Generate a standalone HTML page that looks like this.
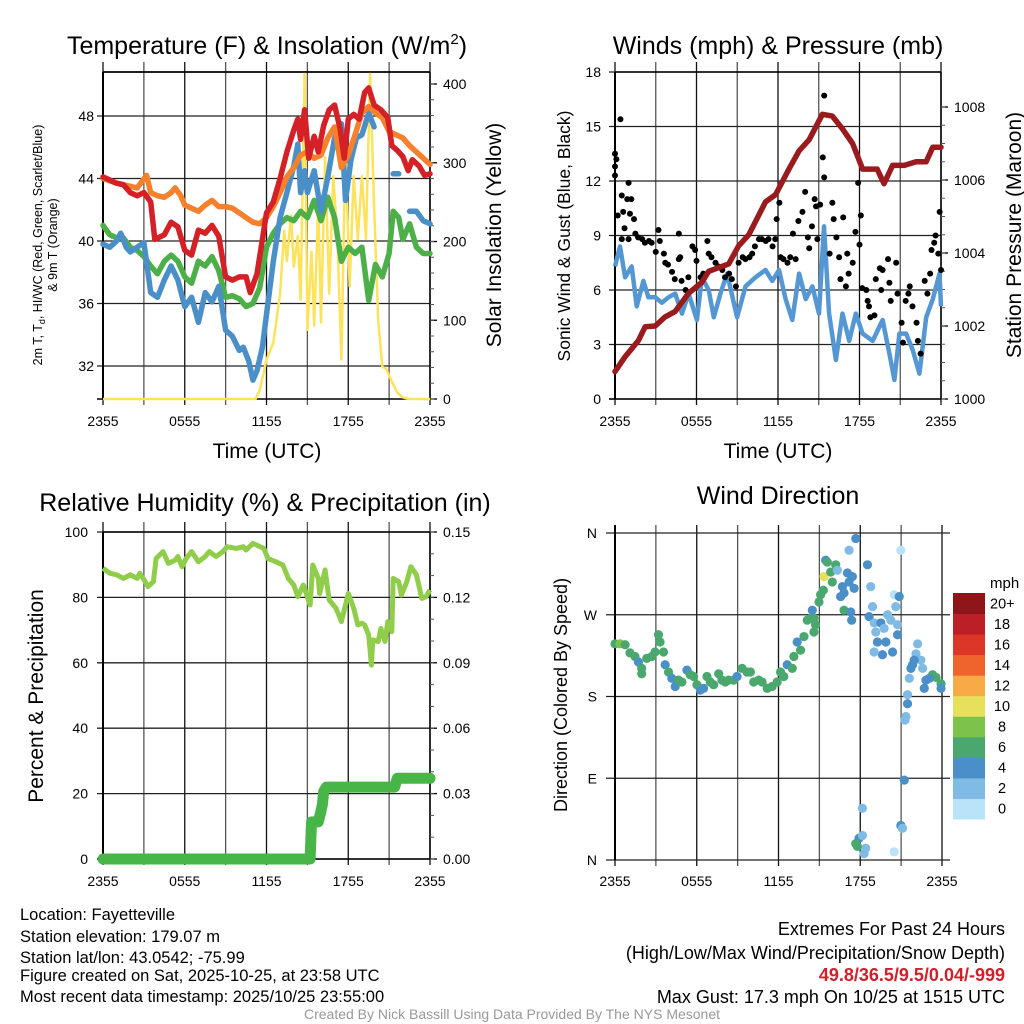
<!DOCTYPE html>
<html><head><meta charset="utf-8"><style>
body{margin:0;background:#fff;}
svg{display:block;font-family:"Liberation Sans",Arial,sans-serif;}
</style></head><body>
<svg id="c" width="1024" height="1024" viewBox="0 0 1024 1024" xmlns="http://www.w3.org/2000/svg">
<rect width="1024" height="1024" fill="#fff"/>
<g id="g"></g>
<text x="267" y="54" font-size="25" text-anchor="middle">Temperature (F) &amp; Insolation (W/m<tspan dy="-10" font-size="15">2</tspan><tspan dy="10">)</tspan></text>
<text x="778" y="54" font-size="25" text-anchor="middle">Winds (mph) &amp; Pressure (mb)</text>
<text x="265" y="511" font-size="25" text-anchor="middle">Relative Humidity (%) &amp; Precipitation (in)</text>
<text x="778" y="504" font-size="25" text-anchor="middle">Wind Direction</text>
<text x="267" y="458" font-size="21" text-anchor="middle">Time (UTC)</text>
<text x="778" y="458" font-size="21" text-anchor="middle">Time (UTC)</text>
<text transform="translate(42,245) rotate(-90)" font-size="12.5" text-anchor="middle">2m T, T<tspan font-size="9" dy="3">d</tspan><tspan dy="-3">, HI/WC (Red, Green, Scarlet/Blue)</tspan></text>
<text transform="translate(57,245) rotate(-90)" font-size="12.5" text-anchor="middle">&amp; 9m T (Orange)</text>
<text transform="translate(501,235) rotate(-90)" font-size="21" text-anchor="middle">Solar Insolation (Yellow)</text>
<text transform="translate(570,236) rotate(-90)" font-size="17.5" text-anchor="middle">Sonic Wind &amp; Gust (Blue, Black)</text>
<text transform="translate(1021,235) rotate(-90)" font-size="21" text-anchor="middle">Station Pressure (Maroon)</text>
<text transform="translate(43,696) rotate(-90)" font-size="21" text-anchor="middle">Percent &amp; Precipitation</text>
<text transform="translate(567,695) rotate(-90)" font-size="18" text-anchor="middle">Direction (Colored By Speed)</text>
<text x="990" y="588" font-size="15">mph</text>
<g font-size="16.5">
<text x="20" y="920">Location: Fayetteville</text>
<text x="20" y="942">Station elevation: 179.07 m</text>
<text x="20" y="963">Station lat/lon: 43.0542; -75.99</text>
<text x="20" y="981">Figure created on Sat, 2025-10-25, at 23:58 UTC</text>
<text x="20" y="1002">Most recent data timestamp: 2025/10/25 23:55:00</text>
</g>
<g font-size="18" text-anchor="end">
<text x="1005" y="935">Extremes For Past 24 Hours</text>
<text x="1005" y="959">(High/Low/Max Wind/Precipitation/Snow Depth)</text>
<text x="1005" y="981" fill="#d0202a" font-weight="bold">49.8/36.5/9.5/0.04/-999</text>
<text x="1005" y="1003">Max Gust: 17.3 mph On 10/25 at 1515 UTC</text>
</g>
<text x="512" y="1019" font-size="14" fill="#999" text-anchor="middle">Created By Nick Bassill Using Data Provided By The NYS Mesonet</text>
</svg>
<script>
const redT=[0,1,1.5,2,2.5,3,3.5,3.8,4.5,5,5.5,6,6.5,7,7.5,8,8.5,9,9.5,10,10.5,10.8,11.3,11.7,12,12.5,13,13.5,14,14.3,14.5,14.8,15.1,15.5,15.8,16.2,16.6,17,17.4,17.7,18,18.4,18.8,19.2,19.5,19.9,20.4,20.9,21.2,21.6,22,22.4,22.7,23.2,23.6,24];
const redV=[44.1,43.7,43.6,43.1,42.9,43.1,42.5,40.1,40.4,41.2,40.9,39.4,39.1,40.7,40.5,41,40.3,37.7,37.5,37.7,37.7,36.7,37.9,40.1,41.8,42.5,44,45.7,47.1,47.8,46.5,48.4,45.3,46.7,45.7,47.4,48.4,48.7,47.2,45.3,47.8,48.1,47.8,49.5,49.8,48.7,48.4,47.9,46.1,45.8,45.4,44.5,45.2,44.8,44.2,44.3];
const orT=[0,1,2,2.5,3.2,3.5,4,4.5,5,5.3,5.7,6,6.5,7,7.5,8,8.5,9,9.5,10,10.5,11,11.5,12,12.5,13,13.5,14,14.5,15,15.5,16,16.5,17,17.5,18,18.5,19,19.5,20,20.5,21,21.5,22,22.5,23,23.5,24];
const orV=[44,43.7,43.5,43.4,44.2,43.1,42.9,42.8,43.1,43.4,42.9,42.3,42.1,41.9,42.3,42.6,42.2,42.2,42.1,41.8,41.5,41.2,41.1,41.5,42.2,43.1,44.1,44.7,45.5,45.7,45.3,45.5,46.6,47.3,44.7,45.5,46.8,48.2,48.6,48.2,47.9,47,46.8,46.6,46.1,45.7,45.3,44.9];
const grT=[0,0.5,1,1.5,2,2.5,3,3.5,4,4.5,5,5.5,6,6.5,7,7.5,8,8.5,9,9.5,10,10.5,11,11.5,12,12.5,13,13.5,14,14.5,15,15.5,16,16.5,17,17.5,18,18.5,19,19.5,20,20.5,21,21.3,21.7,22,22.5,23,23.5,24];
const grV=[41,40.4,40.2,40.2,39.6,39.4,39,38.4,37.9,38.7,39.1,38.7,37.7,37.3,38.7,38.4,39,38.1,36.4,36.5,36.3,35.8,36,37,39.6,40.5,41.1,41.5,41.3,41.9,41.5,42.6,41.3,42.8,41.5,38.7,39.6,39.2,39.6,36.2,38.5,37.7,39.2,41.9,41.5,40.1,41.1,39.6,39.2,39.2];
const blT=[0,0.5,1,1.3,1.7,2,2.5,3,3.5,4,4.5,5,5.5,6,6.5,7,7.5,8,8.5,9,9.5,10,10.3,10.7,11,11.3,11.7,12,12.5,13,13.5,14,14.3,14.5,14.8,15,15.5,16,16.5,17,17.5,17.8,18.2,18.6,19,19.5,19.9,20,21.3,21.7,22,22.5,23,23.5,24];
const blV=[39.8,39.6,40,40.5,39.6,39.3,39.6,39.9,36.7,36.4,37.5,38.4,37.5,35.8,36.4,34.8,36.7,36.1,37.1,34.3,33.9,33,33.2,32.3,31.1,31.7,33.2,35.3,38.7,41.5,43.1,44.8,46.2,43.1,44.5,43.1,44.5,41.9,44.1,46.6,47.5,42.6,45.2,46.6,46.8,48.2,47.3,null,44.3,44.3,null,41.9,41.9,41.3,41.1];
const solT=[0,11.2,11.5,12,12.5,13,13.3,13.5,13.8,14,14.3,14.5,14.8,15,15.3,15.5,15.8,16,16.3,16.6,16.9,17.2,17.5,17.8,18.1,18.4,18.7,19,19.3,19.6,19.9,20.2,20.5,20.8,21.2,21.6,22,22.5,24];
const solV=[0,0,11,50,71,134,214,175,233,168,207,126,414,88,187,93,250,97,307,134,283,203,50,325,143,283,203,283,203,414,245,100,41,38,22,8,2,0,0];
const tempTicks=[32,36,40,44,48];
const solTicks=[0,100,200,300,400];
const timeLabels=["2355","0555","1155","1755","2355"];
const presT=[0,0.74,1.72,2.22,2.96,3.69,4.43,5.42,6.4,6.9,8.37,9.11,9.85,11.08,11.82,12.8,13.55,14.29,15.27,16.0,16.75,17.49,18.23,18.97,19.3,19.8,20.44,21.3,22.17,22.9,23.4,24];
const presV=[1000.75,1001.16,1001.6,1001.98,1002.0,1002.25,1002.4,1002.9,1003.2,1003.5,1003.7,1004.2,1004.5,1005.4,1005.6,1006.3,1006.8,1007.1,1007.8,1007.75,1007.4,1007.0,1006.3,1006.3,1006.3,1005.9,1006.4,1006.4,1006.5,1006.5,1006.9,1006.9];
const sonT=[0,0.37,0.74,1.23,1.6,2.09,2.46,2.96,3.45,3.94,4.43,4.93,5.42,6.03,6.4,6.9,7.27,7.76,8.25,8.99,9.61,10.34,11.08,11.58,12.07,12.56,13.05,13.55,14.04,14.53,15.02,15.39,15.76,16.26,16.75,17.24,17.73,18.23,18.97,19.7,20.2,20.57,20.94,21.43,21.92,22.41,22.91,23.4,23.89,24];
const sonV=[7.3,8.4,6.7,7.3,5.1,6.5,5.6,5.6,5.3,5.6,5.8,4.7,5.8,4.35,6.7,6.0,4.5,5.8,6.9,4.5,6.2,6.7,7.1,6.5,7.1,5.5,4.35,6.9,5.5,6.2,4.7,9.5,4.7,2.15,4.7,3.2,4.7,3.6,3.2,4.35,2.5,1.05,3.6,3.6,2.7,1.4,4.5,5.5,6.9,5.1];
const gustT=[0,0,0.1,0,0.4,0.2,0.5,0.6,0.9,1.0,1.1,1.2,1.4,0.7,0.5,1.0,1.5,1.7,2.0,2.2,2.5,2.7,3.0,3.2,3.3,3.6,3.7,3.9,4.2,4.4,4.7,4.8,4.7,4.9,5.2,5.4,5.7,5.9,6.0,6.3,6.5,6.8,6.9,7.1,7.4,7.6,7.9,8.1,8.4,8.6,8.9,9.1,9.4,9.6,9.9,10.1,10.3,10.6,10.8,11.1,11.3,11.6,11.8,11.9,12.1,12.2,12.4,12.7,12.9,13.1,13.3,13.5,13.8,14.0,14.2,14.3,14.5,14.7,14.8,14.9,15.1,15.3,15.4,15.4,15.8,16.0,16.1,16.3,16.5,16.6,16.8,17.0,17.1,17.2,17.5,17.7,17.9,18.0,18.1,18.2,18.5,18.6,18.7,18.8,19.1,19.2,19.5,19.6,19.7,20.1,20.2,20.3,20.7,20.8,21.1,21.2,21.4,21.6,21.7,21.9,22.2,22.3,22.5,22.8,23.0,23.2,23.3,23.5,23.6,23.8,23.9,24.0];
const gustV=[13.5,12.8,13.2,12.3,15.4,10.1,11.2,10.3,11.0,11.9,10.2,11.0,9.9,9.4,8.8,8.8,9.1,8.9,8.8,8.6,8.7,8.6,8.1,9.3,8.7,8.0,7.5,7.4,7.0,6.6,7.7,7.8,9.1,6.5,6.0,6.7,8.4,8.2,7.6,6.7,6.9,8.7,8.0,7.8,7.5,7.3,7.1,6.7,6.9,6.6,6.2,7.5,7.8,7.7,7.8,8.0,8.4,8.8,8.8,8.7,8.8,8.4,8.8,9.9,10.8,7.8,7.7,7.5,7.8,9.1,7.7,9.8,10.3,11.4,8.9,8.3,9.5,11.0,10.6,8.8,10.7,13.3,12.2,16.7,8.0,10.8,9.9,8.9,7.8,6.6,10.0,6.2,8.0,6.9,7.5,9.2,11.9,8.5,10.1,6.1,6.0,5.4,5.1,4.5,4.6,6.6,7.2,6.0,7.1,7.7,6.4,5.4,7.5,5.8,4.2,3.1,5.4,5.8,6.2,5.1,4.2,3.2,2.5,6.5,5.8,6.9,8.2,8.6,9.0,8.0,10.3,7.1];
const windTicks=[0,3,6,9,12,15,18];
const presTicks=[1000,1002,1004,1006,1008];
const rhT=[0,0.5,1,1.5,2,2.5,2.7,3.1,3.3,3.7,3.9,4.4,4.8,5.3,5.5,5.8,6.1,6.5,7,7.5,7.8,8.3,8.8,9.1,9.8,10.3,10.5,11,11.8,12.1,12.7,13.2,13.6,14,14.3,14.7,15.2,15.4,15.8,15.9,16.3,16.6,17.1,17.5,18,18.4,18.7,19,19.2,19.5,19.7,19.8,20.2,20.4,20.7,20.9,21.2,21.3,21.7,21.9,22.3,22.6,23,23.4,23.7,24];
const rhV=[88.9,87.4,86.9,85.8,86.9,85.8,87.4,84.8,83.3,84.8,91.9,94,90.4,91.4,92.5,89.4,91.9,94,90.9,92.5,94,92.5,94,95.5,95,95.5,94.5,96.5,95,91.9,90.9,89.9,85.8,83.8,80.2,83.8,77.7,89.9,85.8,81.2,88.4,79.2,76.7,72.6,81.2,76.7,71.6,72.1,71.6,68.5,59.3,67,66.5,70.5,66.5,72.6,69.5,85.8,84.8,80.7,84.8,89.4,86.9,79.7,80.2,82.3];
const prT=[0,15.2,15.3,15.8,16.0,16.1,16.2,16.4,21.4,21.6,24];
const prV=[0,0,0.017,0.017,0.022,0.025,0.031,0.033,0.033,0.037,0.037];
const rhTicks=[0,20,40,60,80,100];
const prTicks=["0.00","0.03","0.06","0.09","0.12","0.15"];
const dirT=[0,0.37,0.74,1.10,1.47,1.72,1.96,1.96,2.33,2.70,2.94,3.19,3.31,3.56,3.68,3.93,4.17,4.42,4.66,4.91,5.28,5.52,5.77,6.01,6.26,6.50,6.75,6.99,7.24,7.61,7.85,8.10,8.34,8.71,8.96,9.33,9.69,9.94,10.18,10.55,10.80,11.17,11.53,11.90,12.15,12.39,12.64,13.01,13.13,13.37,13.62,13.87,14.11,14.36,14.6,14.72,14.6,14.48,14.97,15.09,15.29,15.46,15.58,15.34,15.83,15.95,16.2,16.32,16.69,16.56,16.81,17.06,17.18,17.42,17.55,16.81,17.18,17.67,17.3,17.37,18.53,18.77,18.9,18.65,19.02,19.14,19.51,19.26,19.88,19.63,19.02,20.0,20.25,19.75,20.37,20.49,20.86,20.61,20.74,20.74,20.98,22.21,22.09,22.45,22.58,21.84,21.96,21.72,21.6,21.47,21.47,21.35,21.28,21.23,22.82,22.7,23.31,23.56,23.93,23.93,23.07,20.98,21.1,20.49,18.16,17.91,18.16,18.4,18.28,17.67,17.79];
const dirV=[238,238,237,228,224,218,211,205,222,224,229,248,240,229,215,207,200,191,198,196,209,204,202,193,187,189,202,196,193,205,198,196,198,198,202,211,207,207,196,198,196,189,191,196,207,202,215,211,224,240,231,246,264,266,266,259,251,275,284,292,297,330,328,312,317,306,325,319,301,290,294,316,306,312,299,275,341,354,273,264,325,301,279,268,261,251,261,240,240,226,229,270,264,255,229,292,290,279,259,248,341,238,227,220,211,215,220,211,200,182,172,158,154,88,198,189,204,201,194,189,200,38,35,9,57,24,27,13,7,18,15];
const dirS=[7,9,7,7,7,5,7,7,7,7,7,7,7,7,5,7,5,5,7,7,5,7,7,7,5,5,7,7,7,7,7,7,7,7,5,7,7,7,7,7,7,7,7,7,7,7,5,7,7,5,7,7,7,7,7,7,7,5,7,7,7,5,7,11,7,7,7,3,5,5,5,5,5,5,5,7,3,5,5,5,5,3,3,5,3,3,5,5,5,5,3,3,3,3,5,1,5,3,3,5,1,3,3,3,3,5,5,5,3,3,5,3,3,5,5,5,7,7,7,5,5,5,3,1,3,5,3,3,3,7,7];
const cbColors=["#b9e3f8","#7fbbe4","#4a8fc7","#4aa86f","#7dc24a","#e6e05a","#f7aa45","#ef632d","#dc3629","#bd1f26","#8e1519"];
const cbLabels=["0","2","4","6","8","10","12","14","16","18","20+"];
const dirLabels=["N","E","S","W","N"];

const NS="http://www.w3.org/2000/svg";
const G=document.getElementById('g');
function mk(tag,at,parent){const e=document.createElementNS(NS,tag);for(const k in at)e.setAttribute(k,at[k]);(parent||G).appendChild(e);return e;}
function txt(s,x,y,anchor,size,parent){const e=mk('text',{x:x,y:y,'text-anchor':anchor,'font-size':size},parent);e.textContent=s;return e;}
function axisX(x0,x1){return t=>x0+t*(x1-x0)/24;}
function lin(d0,d1,p0,p1){return v=>p0+(v-d0)*(p1-p0)/(d1-d0);}
function pathFrom(T,V,fx,fy){let d="",pen=false;for(let i=0;i<T.length;i++){if(V[i]===null){pen=false;continue;}d+=(pen?"L":"M")+fx(T[i]).toFixed(1)+" "+fy(V[i]).toFixed(1);pen=true;}return d;}

function frame(name,x0,y0,x1,y1,yTicksPix,right){
  const g=mk('g',{});
  
  
  for(let i=0;i<=8;i++){const x=x0+i*(x1-x0)/8;mk('line',{x1:x,y1:y0-10,x2:x,y2:y1+6,stroke:i%2?'#555':'#111','stroke-width':1.3},g);}
  yTicksPix.forEach(y=>mk('line',{x1:x0-6,y1:y,x2:x1+(right?0:8),y2:y,stroke:'#222','stroke-width':1.3},g));
  mk('line',{x1:x0,y1:y0,x2:x0,y2:y1,stroke:'#000','stroke-width':2},g);
  mk('line',{x1:x0-6,y1:y1,x2:x1,y2:y1,stroke:'#000','stroke-width':1.5},g);
  if(right){mk('line',{x1:x1,y1:y0,x2:x1,y2:y1,stroke:'#000','stroke-width':1.5},g);mk('line',{x1:x0,y1:y0,x2:x1,y2:y0,stroke:'#000','stroke-width':1.5},g);}
  return g;
}
function timeAxis(fx,y){const g=mk('g',{});
  timeLabels.forEach((s,i)=>txt(s,fx(i*6),y,'middle',14,g));}
function rightTicks(x,vals,fy,labels,minorStep,g){
  vals.forEach((v,i)=>{const y=fy(v);mk('line',{x1:x,y1:y,x2:x+7,y2:y,stroke:'#000','stroke-width':1.3},g);txt(labels[i],x+13,y+5,'start',14,g);});
  if(minorStep){const a=vals[0],b=vals[vals.length-1];for(let v=a;v<=b+1e-9;v+=minorStep){const y=fy(v);mk('line',{x1:x,y1:y,x2:x+4,y2:y,stroke:'#555','stroke-width':1},g);}}
}

(function(){
  const fx=axisX(103,430), fy=lin(32,48,366,116), fs=lin(0,400,399,84);
  frame('temp',103,72,430,399,tempTicks.map(fy),true);
  const lg=mk('g',{});
  tempTicks.forEach(v=>txt(String(v),94,fy(v)+5,'end',14,lg));
  const rg=mk('g',{});
  rightTicks(430,solTicks,fs,solTicks.map(String),20,rg);
  timeAxis(fx,426);
  let p=mk('path',{d:pathFrom(solT,solV,fx,fs),fill:'none',stroke:'#fde35c','stroke-width':2.5,'stroke-linejoin':'round'});
  
  [[grT,grV,'#4caf48','dewpoint-line'],[blT,blV,'#4a8fc8','windchill-line'],[orT,orV,'#f5812c','temp-9m-line'],[redT,redV,'#d42027','temp-2m-line']].forEach(s=>{
    const e=mk('path',{d:pathFrom(s[0],s[1],fx,fy),fill:'none',stroke:s[2],'stroke-width':5.5,'stroke-linejoin':'round','stroke-linecap':'round'});
    });
  mk('line',{x1:103,y1:72,x2:430,y2:72,stroke:'#000','stroke-width':1.5});
})();

(function(){
  const fx=axisX(615,941), fy=lin(0,18,399,72), fp=lin(1000,1008,399,107);
  frame('wind',615,72,941,399,windTicks.map(fy),true);
  const lg=mk('g',{});
  windTicks.forEach(v=>txt(String(v),601,fy(v)+5,'end',14,lg));
  const rg=mk('g',{});
  rightTicks(941,presTicks,fp,presTicks.map(String),0.5,rg);
  timeAxis(fx,426);
  let e=mk('path',{d:pathFrom(sonT,sonV,fx,fy),fill:'none',stroke:'#5597d3','stroke-width':4.5,'stroke-linejoin':'round'});
  
  const dg=mk('g',{});
  gustT.forEach((t,i)=>{const c=mk('circle',{cx:fx(t),cy:fy(gustV[i]),r:3,fill:'#000'},dg);
    
    });
  e=mk('path',{d:pathFrom(presT,presV,fx,fp),fill:'none',stroke:'#991b1e','stroke-width':5.5,'stroke-linejoin':'round','stroke-linecap':'round'});
  
})();

(function(){
  const fx=axisX(103,430), fy=lin(0,100,859,532), fp=lin(0,0.15,859,532);
  frame('rh',103,532,430,859,rhTicks.map(fy),true);
  const lg=mk('g',{});
  rhTicks.forEach(v=>txt(String(v),88,fy(v)+5,'end',14,lg));
  const rg=mk('g',{});
  rightTicks(430,prTicks.map(Number),fp,prTicks,0.01,rg);
  timeAxis(fx,886);
  let e=mk('path',{d:pathFrom(rhT,rhV,fx,fy),fill:'none',stroke:'#8fcd4b','stroke-width':5,'stroke-linejoin':'round'});
  
  e=mk('path',{d:pathFrom(prT,prV,fx,fp),fill:'none',stroke:'#47b547','stroke-width':11,'stroke-linejoin':'round','stroke-linecap':'round'});
  
})();

(function(){
  const fx=axisX(615,942), fy=lin(0,360,860,533);
  const g=mk('g',{});
  for(let i=0;i<=8;i++){const x=615+i*327/8;mk('line',{x1:x,y1:525,x2:x,y2:866,stroke:i%2?'#555':'#111','stroke-width':1.3},g);}
  dirLabels.forEach((s,i)=>{const y=fy(i*90);mk('line',{x1:606,y1:y,x2:950,y2:y,stroke:'#222','stroke-width':1.3},g);txt(s,597,y+5,'end',14,g);});
  mk('line',{x1:615,y1:525,x2:615,y2:860,stroke:'#000','stroke-width':2},g);
  timeAxis(fx,886);
  const pg=mk('g',{});
  dirT.forEach((t,i)=>{const bin=Math.min(10,Math.floor(dirS[i]/2));
    const c=mk('circle',{cx:fx(t),cy:fy(dirV[i]),r:4.6,fill:cbColors[bin]},pg);
    
    });
  const cb=mk('g',{});
  const top=593,h=226/11;
  cbColors.forEach((c,i)=>{const y=top+(10-i)*h;mk('rect',{x:953,y:y,width:32,height:h+0.5,fill:c},cb);
    txt(cbLabels[i],i==10?990:1002,y+h/2+5,i==10?'start':'middle',14.5,cb);});
})();
</script>
</body></html>
